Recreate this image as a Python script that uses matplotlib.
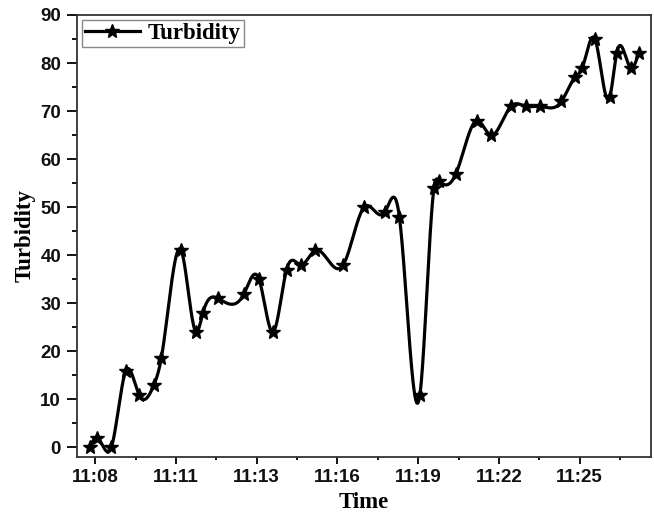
import numpy as np
import matplotlib
matplotlib.use("Agg")
import matplotlib.pyplot as plt
from matplotlib.ticker import MultipleLocator

# minutes after 11:08 and turbidity readings
minutes = [-0.19, 0.06, 0.55, 1.05, 1.49, 2.00, 2.25, 2.93, 3.44, 3.67, 4.18,
           5.07, 5.58, 6.06, 6.52, 7.01, 7.49, 8.45, 9.16, 9.87, 10.36, 11.06,
           11.54, 11.72, 12.29, 12.99, 13.47, 14.16, 14.67, 15.15, 15.88,
           16.34, 16.59, 17.02, 17.53, 17.76, 18.24, 18.51]
turbidity = [0, 2, 0, 16, 11, 13, 18.5, 41, 24, 28, 31,
             32, 35, 24, 37, 38, 41, 38, 50, 49, 48, 11,
             54, 55.5, 57, 68, 65, 71, 71, 71, 72,
             77, 79, 85, 73, 82, 79, 82]

tick_step = 2.75
tick_labels = ['11:08', '11:11', '11:13', '11:16', '11:19', '11:22', '11:25']


def natural_spline(x, y, num=2000):
    # smooth connecting line like Origin's spline
    x = np.asarray(x, float)
    y = np.asarray(y, float)
    n = len(x)
    h = np.diff(x)
    A = np.zeros((n, n))
    r = np.zeros(n)
    A[0, 0] = 1
    A[-1, -1] = 1
    for i in range(1, n - 1):
        A[i, i - 1] = h[i - 1]
        A[i, i] = 2 * (h[i - 1] + h[i])
        A[i, i + 1] = h[i]
        r[i] = 3 * ((y[i + 1] - y[i]) / h[i] - (y[i] - y[i - 1]) / h[i - 1])
    c = np.linalg.solve(A, r)
    b = (y[1:] - y[:-1]) / h - h * (2 * c[:-1] + c[1:]) / 3
    d = (c[1:] - c[:-1]) / (3 * h)
    xs = np.linspace(x[0], x[-1], num)
    idx = np.clip(np.searchsorted(x, xs) - 1, 0, n - 2)
    dx = xs - x[idx]
    ys = y[idx] + b[idx] * dx + c[idx] * dx ** 2 + d[idx] * dx ** 3
    return xs, ys


fig = plt.figure(figsize=(6.54, 5.13), dpi=100)
ax = fig.add_axes([0.1177, 0.1092, 0.8777, 0.8616])

xs, ys = natural_spline(minutes, turbidity)
ax.plot(xs, ys, color='black', linewidth=2.3)
ax.plot(minutes, turbidity, linestyle='none', marker='*', markersize=10,
        color='black')
# legend proxy
ax.plot([], [], color='black', linewidth=2.3, marker='*', markersize=10,
        label='Turbidity')

ax.set_xlim(-0.62, 18.93)
ax.set_ylim(-2, 90)
ax.set_xticks(np.arange(len(tick_labels)) * tick_step)
ax.set_xticklabels(tick_labels)
ax.xaxis.set_minor_locator(MultipleLocator(tick_step / 2))
ax.set_yticks(np.arange(0, 91, 10))
ax.yaxis.set_minor_locator(MultipleLocator(5))

ax.tick_params(axis='x', which='major', direction='out', length=5, width=1.3, pad=4)
ax.tick_params(axis='x', which='minor', direction='out', length=2.5, width=1.3)
ax.tick_params(axis='y', which='major', direction='out', length=7.5, width=1.3, pad=4)
ax.tick_params(axis='y', which='minor', direction='out', length=3.75, width=1.3)
for lab in ax.get_xticklabels() + ax.get_yticklabels():
    lab.set_fontfamily('Liberation Sans')
    lab.set_fontweight('bold')
    lab.set_fontsize(13.5)
    lab.set_color('#111111')
for sp in ax.spines.values():
    sp.set_linewidth(1.3)
    sp.set_color('#333333')

ax.set_xlabel('Time', fontfamily='Liberation Serif', fontweight='bold',
              fontsize=16.5, labelpad=4)
ax.set_ylabel('Turbidity', fontfamily='Liberation Serif', fontweight='bold',
              fontsize=16.5, labelpad=3)

leg = ax.legend(loc='upper left', prop={'family': 'Liberation Serif',
                'weight': 'bold', 'size': 16.5},
                handlelength=2.4, handletextpad=0.35, borderpad=0.15,
                borderaxespad=0.2, fancybox=False, framealpha=1)
leg.get_frame().set_edgecolor('#888888')
leg.get_frame().set_linewidth(1.0)

plt.savefig('out.png', dpi=100)
